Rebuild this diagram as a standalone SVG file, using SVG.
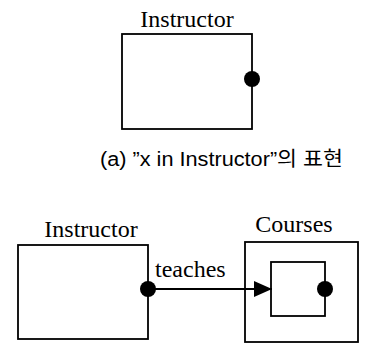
<svg xmlns="http://www.w3.org/2000/svg" width="382" height="343" viewBox="0 0 382 343">
<style>
.box{fill:none;stroke:#000;stroke-width:1.8}
.dot{fill:#000}
.lbl{font-family:"Liberation Serif",serif;font-size:24px;fill:#000}
.cap{font-family:"Liberation Sans","Noto Sans CJK KR",sans-serif;font-size:20px;fill:#000}
</style>
<defs>
<marker id="arr" viewBox="0 0 18 16" refX="18" refY="8" markerWidth="18" markerHeight="16" markerUnits="userSpaceOnUse" orient="auto">
<path d="M0,0 L18,8 L0,16 Z" fill="#000"/>
</marker>
</defs>
<rect width="382" height="343" fill="#fff"/>
<g id="instructor-a">
<text class="lbl" x="187" y="27" text-anchor="middle">Instructor</text>
<rect class="box" x="122" y="34" width="130" height="95"/>
<circle class="dot" cx="252" cy="79" r="8"/>
</g>
<g id="caption">
<text class="cap" x="100" y="166" textLength="243" lengthAdjust="spacingAndGlyphs">(a) ”x in Instructor”의 표현</text>
</g>
<g id="instructor-b">
<text class="lbl" x="91" y="237" text-anchor="middle">Instructor</text>
<rect class="box" x="18" y="245" width="130" height="94"/>
</g>
<g id="courses">
<text class="lbl" x="294" y="232" text-anchor="middle">Courses</text>
<rect class="box" x="245" y="242" width="113" height="100"/>
<rect class="box" x="271" y="262" width="54" height="54"/>
<circle class="dot" cx="325" cy="289" r="8"/>
</g>
<g id="connectors">
<line x1="148" y1="289" x2="272" y2="289" stroke="#000" stroke-width="1.8" marker-end="url(#arr)"/>
<circle class="dot" cx="148" cy="289" r="8"/>
<text class="lbl" x="155" y="277">teaches</text>
</g>
</svg>
